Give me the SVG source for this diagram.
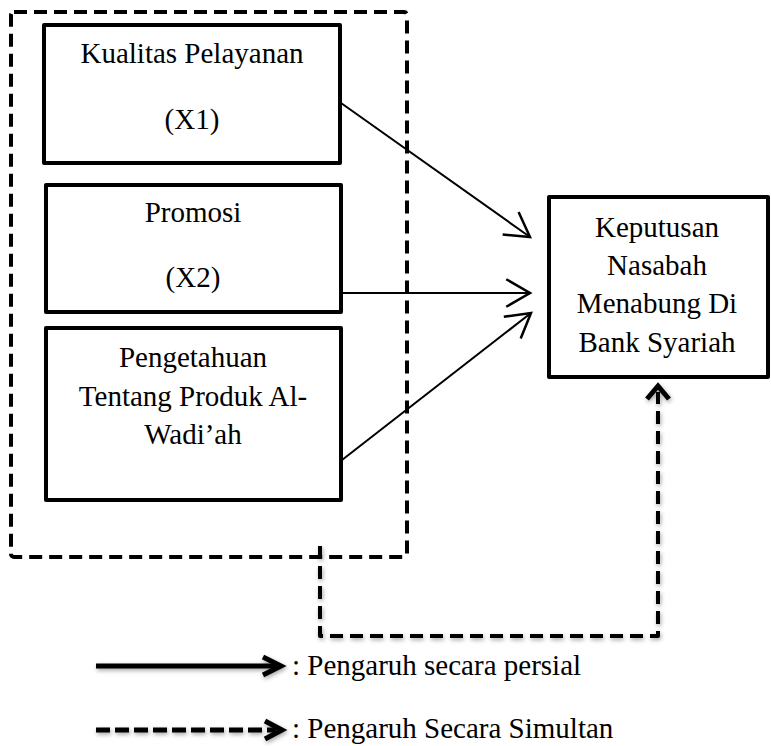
<svg xmlns="http://www.w3.org/2000/svg" width="771" height="746" viewBox="0 0 771 746">
<style>
.box{fill:#fff;stroke:#000;stroke-width:4;stroke-linejoin:round}
text{font-family:'Liberation Serif','Times New Roman',Tinos,serif;font-size:29px;fill:#000}
.c{text-anchor:middle}
.lg{font-size:29px}
.solid{fill:none;stroke:#000;stroke-width:2}
.dash{fill:none;stroke:#000;stroke-width:4;stroke-dasharray:13 7;stroke-linejoin:round}
</style>
<defs>
<marker id="open" markerUnits="userSpaceOnUse" markerWidth="30" markerHeight="30" viewBox="-22 -12 24 24" refX="0" refY="0" orient="auto">
<path d="M-19,-11 L0,0 L-19,11" fill="none" stroke="#000" stroke-width="2"/>
</marker>
<filter id="sh" x="-10%" y="-10%" width="130%" height="130%">
<feDropShadow dx="1" dy="2" stdDeviation="2" flood-color="#000" flood-opacity="0.35"/>
</filter>
</defs>
<rect x="11" y="12" width="396" height="545" class="dash" rx="3"/>
<g id="x1">
<rect x="44" y="25" width="296" height="138" class="box"/>
<text class="c" x="192" y="63">Kualitas Pelayanan</text>
<text class="c" x="192" y="129">(X1)</text>
</g>
<g id="x2">
<rect x="46" y="185" width="295" height="127" class="box"/>
<text class="c" x="193" y="222">Promosi</text>
<text class="c" x="193" y="287">(X2)</text>
</g>
<g id="x3">
<rect x="46" y="328" width="295" height="172" class="box"/>
<text class="c" x="193" y="367">Pengetahuan</text>
<text class="c" x="193" y="406">Tentang Produk Al-</text>
<text class="c" x="193" y="444">Wadi’ah</text>
</g>
<g id="y">
<rect x="549" y="197" width="219" height="180" class="box"/>
<text class="c" x="657" y="237">Keputusan</text>
<text class="c" x="657" y="275">Nasabah</text>
<text class="c" x="657" y="313">Menabung Di</text>
<text class="c" x="657" y="352">Bank Syariah</text>
</g>
<g id="connectors">
<line x1="341" y1="103" x2="530" y2="237" class="solid" marker-end="url(#open)"/>
<line x1="342" y1="293" x2="530" y2="293" class="solid" marker-end="url(#open)"/>
<line x1="342" y1="460" x2="531" y2="313" class="solid" marker-end="url(#open)"/>
<g filter="url(#sh)">
<path d="M320,546 L320,636 L658,636 L658,392" class="dash"/>
<path d="M647,399 L658,386 L669,399" fill="none" stroke="#000" stroke-width="5" stroke-linejoin="miter"/>
</g>
</g>
<g id="legend">
<g filter="url(#sh)">
<line x1="96" y1="666" x2="280" y2="666" stroke="#000" stroke-width="5"/>
<path d="M263,657 L281,666 L263,675" fill="none" stroke="#000" stroke-width="5"/>
<line x1="96" y1="730" x2="276" y2="730" stroke="#000" stroke-width="5" stroke-dasharray="14 5"/>
<path d="M265,721 L282,730 L265,739" fill="none" stroke="#000" stroke-width="5"/>
</g>
<text class="lg" x="292" y="675">: Pengaruh secara persial</text>
<text class="lg" x="292" y="738">: Pengaruh Secara Simultan</text>
</g>
</svg>
